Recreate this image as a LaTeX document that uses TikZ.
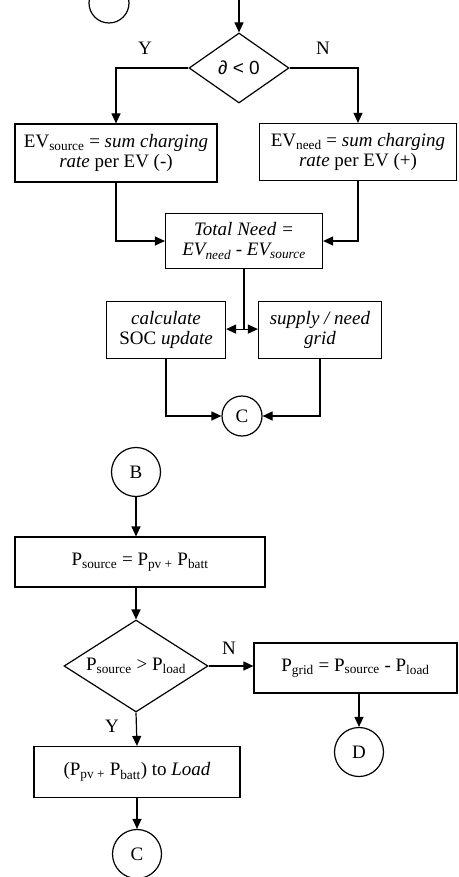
\documentclass[tikz,border=0pt]{standalone}
\usepackage{fontspec}
\setmainfont{Liberation Serif}
\setsansfont{Liberation Sans}
\usetikzlibrary{shapes.geometric,arrows.meta,positioning,calc}
\tikzset{
  ev box/.style={rectangle, draw, align=center, inner sep=2pt, font=\fontsize{19}{20}\selectfont},
  ev decision/.style={diamond, draw, align=center, inner sep=-8pt, font=\fontsize{19}{20}\selectfont},
  ev connector/.style={circle, draw, inner sep=0pt, font=\fontsize{19}{20}\selectfont},
  ev label/.style={inner sep=0pt, font=\fontsize{19}{20}\selectfont},
  ev flow/.style={-{Triangle[length=10pt,width=9pt]}}
}

\begin{document}
\begin{tikzpicture}[x=1pt, y=-1pt, line width=1.2pt]
    \useasboundingbox (0,0) rectangle (458,877);
    \clip (0,0) rectangle (458,877);

    % Upper part: EV charging / discharging
    \node [ev connector, minimum size=40pt] (cTop) at (109,3) {};
    \coordinate (entry) at (239,-2);
    \node [ev decision, minimum width=100pt, minimum height=70pt] (delta) at (239,68) {\sffamily ∂ < 0};
    \node [ev label] (yesA) at (145,48) {Y};
    \node [ev label] (noA) at (323,48) {N};

    \node [ev box, minimum width=202pt, minimum height=58pt] (evSrc) at (116,153)
        {EV\textsubscript{source} = \textit{sum charging}\\ \textit{rate} per EV (-)};
    \node [ev box, minimum width=197pt, minimum height=57pt] (evNeed) at (358,152)
        {EV\textsubscript{need} = \textit{sum charging}\\ \textit{rate} per EV (+)};
    \node [ev box, minimum width=157pt, minimum height=55pt] (total) at (244,241)
        {\textit{Total Need =}\\ \textit{EV\textsubscript{need} - EV\textsubscript{source}}};

    \node [ev box, minimum width=119pt, minimum height=57pt] (calc) at (166,330)
        {\textit{calculate}\\ SOC \textit{update}};
    \node [ev box, minimum width=123pt, minimum height=57pt] (supply) at (320,330)
        {\textit{supply / need}\\ \textit{grid}};
    \node [ev connector, minimum size=40pt] (cA) at (242,416) {C};

    \draw [ev flow] (entry) -- (delta.north);
    \draw [ev flow] (delta.west) -| (evSrc.north);
    \draw [ev flow] (delta.east) -| (evNeed.north);
    \draw [ev flow] (evSrc.south) |- (total.west);
    \draw [ev flow] (evNeed.south) |- (total.east);
    \path (total.south) ++(0,60) coordinate (split);
    \draw (total.south) -- (split);
    \draw [ev flow] (split) -- (split -| calc.east);
    \draw [ev flow] (split) -- (split -| supply.west);
    \draw [ev flow] (calc.south) |- (cA);
    \draw [ev flow] (supply.south) |- (cA);

    % Lower part: PV and battery supply
    \node [ev connector, minimum size=49pt] (cB) at (136,472) {B};
    \node [ev box, minimum width=250pt, minimum height=50pt] (pSrc) at (140,562)
        {P\textsubscript{source} = P\textsubscript{pv +} P\textsubscript{batt}};
    \node [ev decision, minimum width=144pt, minimum height=92pt] (cmp) at (136,666)
        {P\textsubscript{source} > P\textsubscript{load}};
    \node [ev box, minimum width=203pt, minimum height=50pt] (pGrid) at (355.5,668)
        {P\textsubscript{grid} = P\textsubscript{source} - P\textsubscript{load}};
    \node [ev label] (noB) at (229,648) {N};
    \node [ev connector, minimum size=49pt] (cD) at (359,752) {D};
    \node [ev label] (yesB) at (112,726) {Y};
    \node [ev box, minimum width=206pt, minimum height=51pt] (toLoad) at (137,772)
        {(P\textsubscript{pv +} P\textsubscript{batt}) to \textit{Load}};
    \node [ev connector, minimum size=49pt] (cC) at (137,854) {C};

    \draw [ev flow] (cB) -- (cB |- pSrc.north);
    \draw [ev flow] (pSrc.south -| cmp) -- (cmp.north);
    \draw [ev flow] (cmp.east) -- (cmp.east -| pGrid.west);
    \draw [ev flow] (pGrid.south -| cD) -- (cD.north);
    \draw [ev flow] (cmp.south) -- (toLoad.north);
    \draw [ev flow] (toLoad.south) -- (cC.north);
\end{tikzpicture}
\end{document}
